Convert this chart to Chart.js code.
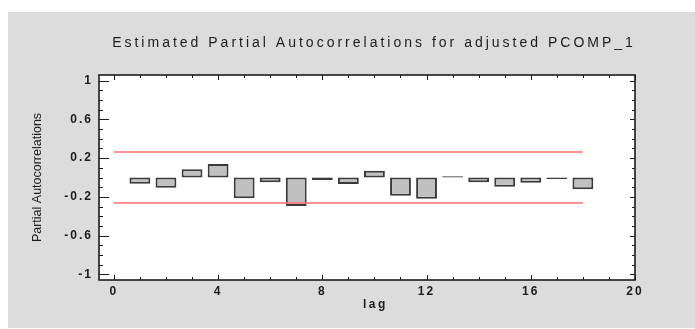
<!DOCTYPE html>
<html>
<head>
<meta charset="utf-8">
<script src="https://cdn.jsdelivr.net/npm/chart.js@4/dist/chart.umd.min.js"></script>
<style>
  html, body { margin: 0; padding: 0; background: #ffffff; }
  #wrap { width: 695px; height: 329px; position: relative; }
</style>
</head>
<body>
<div id="wrap"><canvas id="pacf"></canvas></div>
<script>
// Partial autocorrelation estimates by lag
const lags = [1, 2, 3, 4, 5, 6, 7, 8, 9, 10, 11, 12, 13, 14, 15, 16, 17, 18];
const pacf = [-0.065, -0.105, 0.085, 0.14, -0.215, -0.05, -0.295, -0.026, -0.067,
              0.07, -0.188, -0.219, 0.012, -0.05, -0.095, -0.054, -0.015, -0.122];

// 95% probability limits, drawn across the lag range
const limitLags = [0, 18];
const upperLimit = [0.263, 0.263];
const lowerLimit = [-0.263, -0.263];

// Axis tick labels
const xTicks = [0, 4, 8, 12, 16, 20];
const yTicks = [-1, -0.6, -0.2, 0.2, 0.6, 1];

const titleText = 'Estimated Partial Autocorrelations for adjusted PCOMP_1';
const xTitle = 'lag';
const yTitle = 'Partial Autocorrelations';

const INK = '#1c1c1c';
const BAR_EDGE = '#3a3a3a';

// Panel background, frame, inward tick marks and titles
const framePlugin = {
  id: 'frame',
  beforeDraw(chart) {
    const { ctx, chartArea: a } = chart;
    ctx.save();
    ctx.fillStyle = '#dcdcdc';
    ctx.fillRect(8, 12, chart.width - 8, 316);
    ctx.fillStyle = '#ffffff';
    ctx.fillRect(a.left, a.top, a.right - a.left, a.bottom - a.top);
    ctx.restore();
    // spaced-out lettering for the tick labels
    ctx.letterSpacing = '2px';
  },
  afterDraw(chart) {
    const { ctx, chartArea: a } = chart;
    const xs = chart.scales.x, ys = chart.scales.y;
    ctx.save();
    ctx.letterSpacing = '0px';
    ctx.strokeStyle = INK;
    ctx.lineWidth = 1;
    ctx.beginPath();
    // x ticks: majors from the label list, minors at every lag
    for (let v = 0; v <= 20; v++) {
      const px = Math.round(xs.getPixelForValue(v)) + 0.5;
      const major = xTicks.includes(v);
      const lb = major ? 5 : 3;
      ctx.moveTo(px, a.bottom); ctx.lineTo(px, a.bottom - lb);
      ctx.moveTo(px, a.top); ctx.lineTo(px, a.top + lb);
    }
    // y ticks: majors from the label list, minors every 0.1
    for (let i = -10; i <= 10; i++) {
      const v = i / 10;
      const py = Math.round(ys.getPixelForValue(v)) + 0.5;
      const major = yTicks.some(t => Math.abs(t - v) < 1e-9);
      ctx.moveTo(a.left, py); ctx.lineTo(a.left + (major ? 10 : 4), py);
      ctx.moveTo(a.right, py); ctx.lineTo(a.right - (major ? 5 : 3), py);
    }
    ctx.stroke();

    ctx.lineWidth = 1.6;
    ctx.strokeRect(a.left, a.top, a.right - a.left, a.bottom - a.top);

    ctx.fillStyle = INK;
    ctx.textAlign = 'center';
    ctx.textBaseline = 'middle';

    // chart title
    ctx.font = '14px "Liberation Sans", Arial, sans-serif';
    ctx.letterSpacing = '3px';
    ctx.fillText(titleText, (a.left + a.right) / 2 + 7, 43);

    // x axis title, centred under the tick range
    ctx.font = 'bold 12px "Liberation Sans", Arial, sans-serif';
    ctx.letterSpacing = '2.5px';
    const cx = (xs.getPixelForValue(xTicks[0]) + xs.getPixelForValue(xTicks[xTicks.length - 1])) / 2;
    ctx.fillText(xTitle, cx + 1, 305);

    // y axis title, condensed
    ctx.letterSpacing = '0px';
    ctx.font = '12.5px "Liberation Sans Narrow", "Arial Narrow", sans-serif';
    ctx.translate(38, (a.top + a.bottom) / 2);
    ctx.rotate(-Math.PI / 2);
    ctx.fillText(yTitle, 0, 0);
    ctx.restore();
  }
};

const tickFont = { family: '"Liberation Sans", Arial, sans-serif', size: 12, weight: 'bold' };

new Chart(document.getElementById('pacf'), {
  type: 'bar',
  data: {
    datasets: [
      {
        type: 'bar',
        data: lags.map((l, i) => ({ x: l, y: pacf[i] })),
        // near-zero estimates show up as a solid dark rule
        backgroundColor: pacf.map(v => Math.abs(v) < 0.02 ? BAR_EDGE : '#c0c0c0'),
        borderColor: BAR_EDGE,
        borderWidth: 2,
        borderSkipped: false,
        barPercentage: 0.8,
        categoryPercentage: 1.0,
        order: 2
      },
      {
        type: 'line',
        data: limitLags.map((l, i) => ({ x: l, y: upperLimit[i] })),
        borderColor: '#ff6f6f',
        borderWidth: 1.6,
        pointRadius: 0,
        order: 1
      },
      {
        type: 'line',
        data: limitLags.map((l, i) => ({ x: l, y: lowerLimit[i] })),
        borderColor: '#ff6f6f',
        borderWidth: 1.6,
        pointRadius: 0,
        order: 1
      }
    ]
  },
  options: {
    responsive: true,
    maintainAspectRatio: false,
    animation: false,
    events: [],
    layout: { padding: { left: 0, right: 60, top: 75, bottom: 0 } },
    plugins: { legend: { display: false }, tooltip: { enabled: false }, title: { display: false } },
    scales: {
      x: {
        type: 'linear',
        min: -0.57,
        max: 20,
        offset: false,
        grid: { display: false, drawTicks: false, offset: false },
        border: { display: false },
        afterBuildTicks: s => { s.ticks = xTicks.map(v => ({ value: v })); },
        afterFit: s => { s.height = 49; },
        ticks: {
          padding: 4,
          color: INK,
          font: tickFont,
          callback: v => String(v),
          maxRotation: 0
        }
      },
      y: {
        type: 'linear',
        min: -1.06,
        max: 1.06,
        grid: { display: false, drawTicks: false },
        border: { display: false },
        afterBuildTicks: s => { s.ticks = yTicks.map(v => ({ value: v })); },
        afterFit: s => { s.width = 99; },
        ticks: {
          padding: 6,
          color: INK,
          font: tickFont,
          callback: v => String(v)
        }
      }
    }
  },
  plugins: [framePlugin]
});
</script>
</body>
</html>
